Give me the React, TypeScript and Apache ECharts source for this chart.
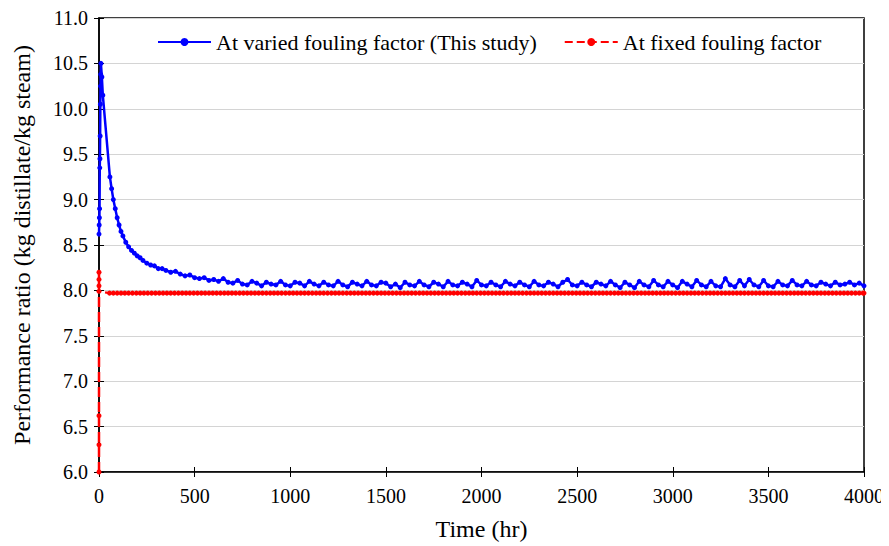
import React, { useEffect, useRef } from "react";
import * as echarts from "echarts";

// ---- Data ----
const xTicks = [0, 500, 1000, 1500, 2000, 2500, 3000, 3500, 4000];
const yTicks = [6.0, 6.5, 7.0, 7.5, 8.0, 8.5, 9.0, 9.5, 10.0, 10.5, 11.0];

// Varied fouling factor – start-up phase (irregular times)
const blueEarlyTime = [0, 1, 2, 3, 4, 5, 6, 7, 8, 9, 10, 15, 20, 57, 66, 75, 85, 95, 105, 115, 125, 140, 155, 170, 185, 200, 215, 230, 250, 270, 290, 310, 330, 350, 375, 400, 425, 450, 475, 500, 525, 550, 575];
const blueEarlyValue = [8.62, 8.72, 8.8, 8.9, 9.35, 9.45, 9.7, 10.05, 10.25, 10.38, 10.5, 10.35, 10.15, 9.25, 9.12, 9.0, 8.9, 8.8, 8.72, 8.65, 8.6, 8.53, 8.48, 8.44, 8.41, 8.38, 8.36, 8.33, 8.3, 8.28, 8.27, 8.24, 8.24, 8.22, 8.2, 8.21, 8.18, 8.16, 8.17, 8.14, 8.13, 8.14, 8.11];

// Varied fouling factor – quasi-steady phase, sampled every 25 hr from 600 to 4000 hr
const blueTailStart = 600;
const blueTailStep = 25;
const blueTailValue = [
  8.12, 8.10, 8.13, 8.09, 8.08, 8.11, 8.07, 8.06, 8.10, 8.08, 8.05, 8.09, 8.07, 8.06, 8.10, 8.06,
  8.05, 8.09, 8.08, 8.05, 8.10, 8.07, 8.05, 8.09, 8.06, 8.05, 8.10, 8.06, 8.04, 8.09, 8.07, 8.05,
  8.10, 8.06, 8.05, 8.09, 8.08, 8.04, 8.07, 8.03, 8.09, 8.06, 8.05, 8.10, 8.06, 8.04, 8.09, 8.07,
  8.04, 8.10, 8.06, 8.05, 8.09, 8.07, 8.04, 8.11, 8.06, 8.05, 8.09, 8.06, 8.04, 8.10, 8.07, 8.05,
  8.09, 8.06, 8.04, 8.10, 8.06, 8.05, 8.09, 8.07, 8.04, 8.09, 8.12, 8.06, 8.05, 8.09, 8.06, 8.04,
  8.09, 8.07, 8.05, 8.10, 8.06, 8.03, 8.09, 8.06, 8.03, 8.10, 8.06, 8.04, 8.11, 8.06, 8.04, 8.10,
  8.06, 8.03, 8.10, 8.07, 8.04, 8.11, 8.06, 8.04, 8.10, 8.05, 8.04, 8.13, 8.06, 8.04, 8.11, 8.05,
  8.12, 8.06, 8.04, 8.11, 8.05, 8.04, 8.10, 8.06, 8.05, 8.11, 8.06, 8.05, 8.10, 8.06, 8.05, 8.09,
  8.07, 8.05, 8.09, 8.06, 8.07, 8.09, 8.06, 8.08, 8.05,
];

// Fixed fouling factor – start-up points at t = 0, then steady value
const redEarlyTime = [0, 0, 0, 0, 0, 0, 0];
const redEarlyValue = [6.0, 6.3, 6.62, 8.2, 8.12, 8.05, 7.99];
const redSteadyStart = 55;
const redSteadyStep = 20;
const redSteadyEnd = 4000;
const redSteadyValue = 7.97;

const seriesNames = ["At varied fouling factor (This study)", "At fixed fouling factor"];

const FONT = "Liberation Serif";

export default function App() {
  const ref = useRef<HTMLDivElement>(null);

  useEffect(() => {
    if (!ref.current) return;
    const chart = echarts.init(ref.current, undefined, { renderer: "svg" });

    const blueData: [number, number][] = blueEarlyTime.map((t, i) => [t, blueEarlyValue[i]]);
    blueTailValue.forEach((v, i) => blueData.push([blueTailStart + i * blueTailStep, v]));

    const redData: [number, number][] = redEarlyTime.map((t, i) => [t, redEarlyValue[i]]);
    for (let t = redSteadyStart; t <= redSteadyEnd; t += redSteadyStep) redData.push([t, redSteadyValue]);
    redData.push([redSteadyEnd, redSteadyValue]);

    const xMin = xTicks[0];
    const xMax = xTicks[xTicks.length - 1];
    const xInt = xTicks[1] - xTicks[0];
    const yMin = yTicks[0];
    const yMax = yTicks[yTicks.length - 1];
    const yInt = yTicks[1] - yTicks[0];

    chart.setOption({
      animation: false,
      backgroundColor: "#ffffff",
      textStyle: { fontFamily: FONT },
      grid: {
        left: 99,
        right: 25,
        top: 18,
        bottom: 73,
        show: true,
        borderColor: "#000",
        borderWidth: 1.5,
        backgroundColor: "transparent",
      },
      legend: {
        top: 26,
        left: 152,
        itemWidth: 53,
        itemHeight: 10,
        itemGap: 27,
        textStyle: { fontFamily: FONT, fontSize: 22, color: "#000" },
        data: seriesNames,
      },
      xAxis: [
        {
          type: "value",
          min: xMin,
          max: xMax,
          interval: xInt,
          name: "Time (hr)",
          nameLocation: "middle",
          nameGap: 45,
          nameTextStyle: { fontFamily: FONT, fontSize: 24, color: "#000" },
          axisLine: { lineStyle: { color: "#000", width: 1.5 } },
          axisTick: { show: true, length: 5, lineStyle: { color: "#000" } },
          axisLabel: {
            fontFamily: FONT,
            fontSize: 20,
            color: "#000",
            margin: 14,
            formatter: (v: number) => String(v),
          },
          splitLine: { show: false },
        },
        {
          type: "value",
          min: xMin,
          max: xMax,
          interval: xInt,
          position: "bottom",
          axisLine: { show: false },
          axisTick: { show: true, inside: true, length: 5, lineStyle: { color: "#000" } },
          axisLabel: { show: false },
          splitLine: { show: false },
        },
      ],
      yAxis: [
        {
          type: "value",
          min: yMin,
          max: yMax,
          interval: yInt,
          name: "Performance ratio (kg distillate/kg steam)",
          nameLocation: "middle",
          nameGap: 65,
          nameTextStyle: { fontFamily: FONT, fontSize: 24, color: "#000" },
          axisLine: { lineStyle: { color: "#000", width: 1.5 } },
          axisTick: { show: true, length: 5, lineStyle: { color: "#000" } },
          axisLabel: {
            fontFamily: FONT,
            fontSize: 20,
            color: "#000",
            margin: 11,
            formatter: (v: number) => v.toFixed(1),
          },
          splitLine: { show: true, lineStyle: { color: "#d4d4d4", width: 1 } },
        },
        {
          type: "value",
          min: yMin,
          max: yMax,
          interval: yInt,
          position: "left",
          axisLine: { show: false },
          axisTick: { show: true, inside: true, length: 5, lineStyle: { color: "#000" } },
          axisLabel: { show: false },
          splitLine: { show: false },
        },
      ],
      series: [
        {
          name: seriesNames[1],
          type: "line",
          data: redData,
          xAxisIndex: 0,
          yAxisIndex: 0,
          symbol: "circle",
          symbolSize: 5,
          showSymbol: true,
          lineStyle: { color: "#ff0000", width: 2.5, type: "dashed" },
          itemStyle: { color: "#ff0000" },
          z: 2,
        },
        {
          name: seriesNames[0],
          type: "line",
          data: blueData,
          xAxisIndex: 0,
          yAxisIndex: 0,
          symbol: "circle",
          symbolSize: 5,
          showSymbol: true,
          lineStyle: { color: "#0000ff", width: 2.5 },
          itemStyle: { color: "#0000ff" },
          z: 3,
        },
      ],
    });

    return () => chart.dispose();
  }, []);

  return <div ref={ref} style={{ width: 889, height: 546, marginLeft: -8, marginTop: -8 }} />;
}
